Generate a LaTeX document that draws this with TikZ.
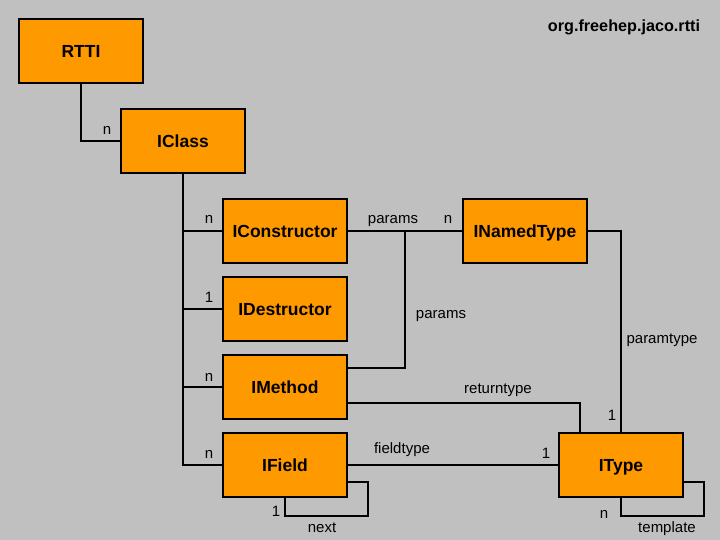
\documentclass[tikz,border=0pt]{standalone}
\usepackage{fontspec}
\setmainfont{Liberation Sans}
\usepackage{xcolor}
\usetikzlibrary{calc,positioning}
\definecolor{bgray1}{RGB}{192,192,192}
\definecolor{orange1}{RGB}{255,153,0}

\begin{document}
\begin{tikzpicture}[x=1pt,y=-1pt,
  cls/.style={draw, line width=1.8pt, fill=orange1, minimum width=124pt, minimum height=64pt,
    inner sep=0pt, text height=12.6pt, text depth=0pt, font=\fontsize{17.5}{20}\selectfont\bfseries},
  lnk/.style={line width=1.8pt},
  lbl/.style={anchor=base, inner sep=0pt, font=\fontsize{15}{18}\selectfont}]

% background, 720x540
\fill[bgray1] (0,0) rectangle (720,540);
\useasboundingbox (0,0) rectangle (720,540);

\node[anchor=base, inner sep=0pt, font=\fontsize{16.2}{20}\selectfont\bfseries] (pkg) at (624,32) {org.freehep.jaco.rtti};

% ----- CLASSES -----
\node[cls] (rtti) at (81,51) {RTTI};
\node[cls] (iclass) at (183,141) {IClass};
\node[cls] (icons) at (285,231) {IConstructor};
\node[cls] (idest) at (285,309) {IDestructor};
\node[cls] (imeth) at (285,387) {IMethod};
\node[cls] (ifield) at (285,465) {IField};
\node[cls] (inamed) at (525,231) {INamedType};
\node[cls] (itype) at (621,465) {IType};

% ----- LINKS -----
\draw[lnk] (rtti.south) |- (iclass.west);
\draw[lnk] (iclass.south) |- (ifield.west);
\foreach \c in {icons,idest,imeth}
  \draw[lnk] (iclass.south |- \c.west) -- (\c.west);

\coordinate (pj) at (405,231);
\draw[lnk] (icons.east) -- (inamed.west);
\draw[lnk] (pj) |- ([yshift=19pt]imeth.east);
\draw[lnk] ([yshift=-16pt]imeth.east) -| ([xshift=-41pt]itype.north);
\draw[lnk] (inamed.east) -| (itype.north);
\draw[lnk] (ifield.east) -- (itype.west);

% self loops
\draw[lnk] ([yshift=-17pt]ifield.east) -- ++(20,0) |- ([yshift=-18pt]ifield.south) -- (ifield.south);
\draw[lnk] ([yshift=-17pt]itype.east) -- ++(20,0) |- ([yshift=-18pt]itype.south) -- (itype.south);

% ----- LABELS -----
\node[lbl] (m1) at (107,135) {n};
\node[lbl] (m2) at (209,224) {n};
\node[lbl] (m3) at (209,302) {1};
\node[lbl] (m4) at (209,381) {n};
\node[lbl] (m5) at (209,458) {n};
\node[lbl] (m6) at (448,224) {n};
\node[lbl] (m7) at (276,516) {1};
\node[lbl] (m8) at (612,420) {1};
\node[lbl] (m9) at (546,458) {1};
\node[lbl] (m10) at (604,518) {n};

\node[lbl] (r1) at (393,223) {params};
\node[lbl] (r2) at (441,318) {params};
\node[lbl] (r3) at (498,393) {returntype};
\node[lbl] (r4) at (662,343) {paramtype};
\node[lbl] (r5) at (402,453) {fieldtype};
\node[lbl] (r6) at (322,532) {next};
\node[lbl] (r7) at (667,532) {template};

\end{tikzpicture}
\end{document}
